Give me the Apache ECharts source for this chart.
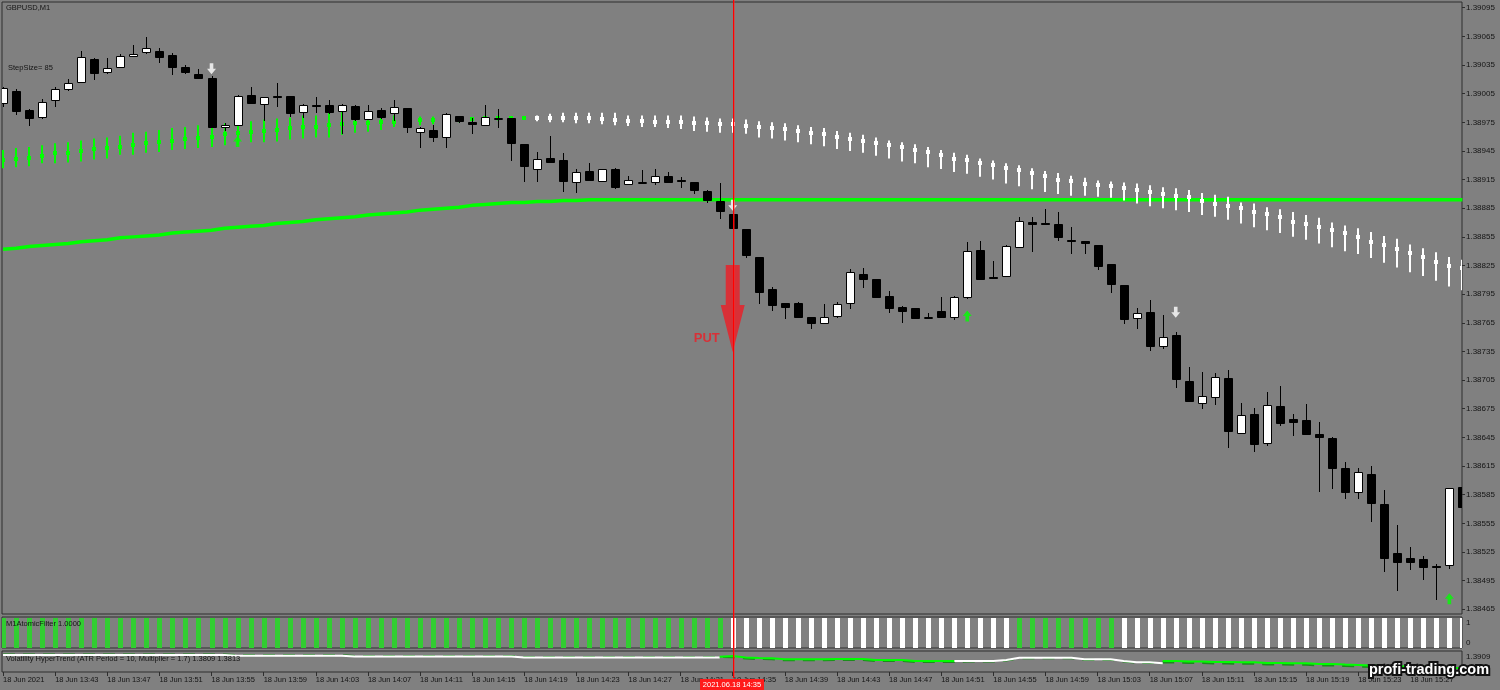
<!DOCTYPE html>
<html><head><meta charset="utf-8">
<script src="https://cdn.jsdelivr.net/npm/echarts@6/dist/echarts.min.js"></script>
<style>html,body{margin:0;padding:0;background:#808080;}#c{width:1500px;height:690px;}</style>
</head><body><div id="c"></div>
<script>
// ---------------- DATA (GBPUSD, M1, 18 Jun 2021 13:39 .. 15:31) ----------------
const symbolTitle = 'GBPUSD,M1';
const stepSizeText = 'StepSize= 85';
const filterTitle = 'M1AtomicFilter 1.0000';
const hyperTitle = 'Volatility HyperTrend (ATR Period = 10, Multiplier = 1.7) 1.3809 1.3813';
const putTime = '2021.06.18 14:35';
const putLabel = 'PUT';

const opens = [1.38995,1.39008,1.38988,1.38981,1.38998,1.39010,1.39017,1.39041,1.39028,1.39033,
1.39044,1.39049,1.39050,1.39046,1.39033,1.39026,1.39021,1.38970,1.38972,1.39004,
1.38994,1.39003,1.39003,1.38986,1.38993,1.38993,1.38987,1.38992,1.38978,1.38988,
1.38985,1.38990,1.38965,1.38967,1.38960,1.38982,1.38975,1.38972,1.38980,1.38979,
1.38952,1.38926,1.38938,1.38935,1.38912,1.38924,1.38914,1.38926,1.38910,1.38912,
1.38912,1.38919,1.38915,1.38912,1.38903,1.38893,1.38879,1.38863,1.38834,1.38800,
1.38786,1.38786,1.38771,1.38765,1.38772,1.38786,1.38816,1.38811,1.38793,1.38782,
1.38780,1.38771,1.38777,1.38771,1.38792,1.38841,1.38813,1.38814,1.38844,1.38871,
1.38870,1.38868,1.38852,1.38851,1.38846,1.38827,1.38805,1.38770,1.38776,1.38741,
1.38752,1.38704,1.38681,1.38687,1.38707,1.38650,1.38669,1.38639,1.38678,1.38664,
1.38663,1.38649,1.38644,1.38613,1.38588,1.38607,1.38575,1.38524,1.38519,1.38518,
1.38510,1.38511,1.38593];
const closes = [1.39011,1.38987,1.38979,1.38996,1.39010,1.39016,1.39043,1.39027,1.39032,1.39044,
1.39047,1.39053,1.39043,1.39033,1.39028,1.39021,1.38970,1.38972,1.39003,1.38995,
1.39001,1.39002,1.38985,1.38993,1.38992,1.38986,1.38993,1.38978,1.38987,1.38981,
1.38991,1.38970,1.38969,1.38960,1.38984,1.38976,1.38973,1.38981,1.38980,1.38953,
1.38929,1.38937,1.38933,1.38913,1.38923,1.38915,1.38926,1.38907,1.38915,1.38912,
1.38919,1.38912,1.38913,1.38904,1.38894,1.38882,1.38864,1.38836,1.38797,1.38784,
1.38782,1.38771,1.38765,1.38771,1.38785,1.38818,1.38811,1.38792,1.38781,1.38777,
1.38770,1.38771,1.38771,1.38792,1.38840,1.38811,1.38812,1.38845,1.38872,1.38869,
1.38869,1.38855,1.38851,1.38849,1.38825,1.38806,1.38769,1.38775,1.38741,1.38750,
1.38706,1.38683,1.38688,1.38708,1.38652,1.38668,1.38638,1.38679,1.38660,1.38661,
1.38649,1.38645,1.38613,1.38588,1.38609,1.38576,1.38519,1.38514,1.38514,1.38509,
1.38509,1.38592,1.38572];
const highs = [1.39012,1.39010,1.38989,1.38999,1.39012,1.39020,1.39050,1.39042,1.39042,1.39047,
1.39056,1.39064,1.39053,1.39048,1.39035,1.39031,1.39023,1.38974,1.39004,1.39012,
1.39002,1.39016,1.39003,1.38994,1.39001,1.38998,1.38994,1.38993,1.38993,1.38990,
1.38998,1.38990,1.38970,1.38972,1.38985,1.38982,1.38980,1.38993,1.38989,1.38980,
1.38952,1.38944,1.38961,1.38943,1.38926,1.38932,1.38926,1.38927,1.38919,1.38925,
1.38926,1.38923,1.38918,1.38912,1.38904,1.38911,1.38881,1.38863,1.38834,1.38803,
1.38786,1.38787,1.38771,1.38785,1.38787,1.38821,1.38822,1.38811,1.38798,1.38783,
1.38780,1.38775,1.38792,1.38793,1.38850,1.38851,1.38830,1.38846,1.38876,1.38876,
1.38884,1.38881,1.38865,1.38851,1.38846,1.38827,1.38805,1.38781,1.38789,1.38773,
1.38755,1.38719,1.38713,1.38712,1.38716,1.38681,1.38676,1.38692,1.38699,1.38670,
1.38680,1.38661,1.38645,1.38619,1.38613,1.38615,1.38590,1.38553,1.38530,1.38521,
1.38512,1.38592,1.38595];
const lows = [1.38992,1.38984,1.38972,1.38980,1.38992,1.39009,1.39017,1.39020,1.39027,1.39033,
1.39044,1.39048,1.39038,1.39026,1.39027,1.39021,1.38970,1.38967,1.38972,1.38995,
1.38977,1.38992,1.38982,1.38981,1.38986,1.38985,1.38964,1.38977,1.38978,1.38980,
1.38977,1.38965,1.38949,1.38955,1.38949,1.38975,1.38964,1.38972,1.38970,1.38935,
1.38914,1.38914,1.38933,1.38903,1.38902,1.38915,1.38913,1.38906,1.38910,1.38912,
1.38910,1.38912,1.38907,1.38901,1.38892,1.38875,1.38863,1.38834,1.38786,1.38778,
1.38770,1.38771,1.38760,1.38765,1.38771,1.38781,1.38802,1.38792,1.38776,1.38766,
1.38770,1.38770,1.38771,1.38769,1.38791,1.38811,1.38812,1.38814,1.38844,1.38840,
1.38868,1.38852,1.38838,1.38838,1.38821,1.38797,1.38765,1.38760,1.38737,1.38739,
1.38698,1.38683,1.38676,1.38680,1.38635,1.38650,1.38631,1.38637,1.38658,1.38648,
1.38649,1.38589,1.38592,1.38582,1.38581,1.38557,1.38505,1.38485,1.38507,1.38497,
1.38476,1.38508,1.38569];

// thick green moving average
const maLine = [1.38842,1.38843,1.38845,1.38846,1.38847,1.38848,1.38850,1.38851,1.38852,1.38854,
1.38855,1.38856,1.38857,1.38859,1.38860,1.38861,1.38862,1.38864,1.38865,1.38866,
1.38867,1.38869,1.38870,1.38871,1.38873,1.38874,1.38875,1.38876,1.38878,1.38879,
1.38880,1.38881,1.38883,1.38884,1.38885,1.38886,1.38888,1.38889,1.38890,1.38891,
1.38891,1.38892,1.38892,1.38893,1.38893,1.38894,1.38894,1.38894,1.38894,1.38894,
1.38894,1.38894,1.38894,1.38894,1.38894,1.38894,1.38894,1.38894,1.38894,1.38894,
1.38894,1.38894,1.38894,1.38894,1.38894,1.38894,1.38894,1.38894,1.38894,1.38894,
1.38894,1.38894,1.38894,1.38894,1.38894,1.38894,1.38894,1.38894,1.38894,1.38894,
1.38894,1.38894,1.38894,1.38894,1.38894,1.38894,1.38894,1.38894,1.38894,1.38894,
1.38894,1.38894,1.38894,1.38894,1.38894,1.38894,1.38894,1.38894,1.38894,1.38894,
1.38894,1.38894,1.38894,1.38894,1.38894,1.38894,1.38894,1.38894,1.38894,1.38894,
1.38894,1.38894,1.38894];

// step indicator: range top / marker / range bottom, direction (1 green up, -1 white down)
const stepTop = [1.38946,1.38948,1.38949,1.38951,1.38953,1.38954,1.38956,1.38958,1.38959,1.38961,
1.38964,1.38965,1.38967,1.38969,1.38970,1.38972,1.38972,1.38974,1.38976,1.38976,
1.38978,1.38979,1.38980,1.38982,1.38982,1.38985,1.38986,1.38986,1.38984,1.38982,
1.38982,1.38981,1.38981,1.38981,1.38981,1.38981,1.38980,1.38981,1.38981,1.38980,
1.38980,1.38982,1.38984,1.38985,1.38985,1.38985,1.38985,1.38985,1.38982,1.38982,
1.38982,1.38982,1.38982,1.38981,1.38980,1.38979,1.38979,1.38978,1.38976,1.38975,
1.38974,1.38972,1.38970,1.38969,1.38966,1.38964,1.38962,1.38959,1.38956,1.38954,
1.38952,1.38949,1.38946,1.38943,1.38941,1.38937,1.38935,1.38932,1.38930,1.38927,
1.38924,1.38922,1.38919,1.38917,1.38914,1.38913,1.38912,1.38911,1.38909,1.38907,
1.38906,1.38904,1.38901,1.38899,1.38897,1.38891,1.38890,1.38886,1.38884,1.38881,
1.38878,1.38875,1.38870,1.38867,1.38864,1.38860,1.38856,1.38853,1.38847,1.38843,
1.38839,1.38834,1.38831];
const stepMid = [1.38935,1.38937,1.38938,1.38940,1.38943,1.38943,1.38945,1.38947,1.38948,1.38949,
1.38951,1.38953,1.38954,1.38955,1.38957,1.38959,1.38960,1.38963,1.38964,1.38965,
1.38966,1.38967,1.38969,1.38970,1.38970,1.38972,1.38973,1.38974,1.38974,1.38975,
1.38975,1.38976,1.38977,1.38977,1.38978,1.38978,1.38978,1.38979,1.38979,1.38979,
1.38979,1.38979,1.38979,1.38979,1.38979,1.38979,1.38978,1.38977,1.38976,1.38976,
1.38975,1.38975,1.38975,1.38974,1.38974,1.38973,1.38973,1.38971,1.38970,1.38969,
1.38968,1.38966,1.38964,1.38963,1.38960,1.38958,1.38955,1.38953,1.38951,1.38949,
1.38946,1.38944,1.38941,1.38937,1.38935,1.38932,1.38930,1.38927,1.38925,1.38922,
1.38919,1.38915,1.38913,1.38910,1.38909,1.38908,1.38906,1.38904,1.38902,1.38900,
1.38898,1.38897,1.38893,1.38889,1.38887,1.38885,1.38881,1.38879,1.38876,1.38871,
1.38869,1.38865,1.38862,1.38859,1.38855,1.38850,1.38846,1.38842,1.38838,1.38834,
1.38829,1.38824,1.38822];
const stepBot = [1.38927,1.38928,1.38929,1.38932,1.38932,1.38933,1.38934,1.38936,1.38937,1.38941,
1.38941,1.38943,1.38944,1.38946,1.38947,1.38948,1.38949,1.38951,1.38951,1.38954,
1.38954,1.38955,1.38957,1.38958,1.38959,1.38959,1.38962,1.38964,1.38965,1.38967,
1.38970,1.38971,1.38972,1.38973,1.38974,1.38975,1.38976,1.38976,1.38977,1.38978,
1.38978,1.38976,1.38975,1.38975,1.38974,1.38974,1.38973,1.38972,1.38971,1.38970,
1.38970,1.38969,1.38968,1.38966,1.38965,1.38964,1.38964,1.38963,1.38959,1.38958,
1.38956,1.38954,1.38952,1.38950,1.38947,1.38945,1.38943,1.38940,1.38937,1.38934,
1.38932,1.38928,1.38926,1.38923,1.38921,1.38918,1.38915,1.38911,1.38908,1.38905,
1.38902,1.38900,1.38898,1.38898,1.38897,1.38896,1.38893,1.38890,1.38887,1.38885,
1.38883,1.38881,1.38878,1.38876,1.38873,1.38869,1.38865,1.38862,1.38859,1.38855,
1.38852,1.38848,1.38844,1.38840,1.38837,1.38833,1.38828,1.38823,1.38818,1.38814,
1.38809,1.38803,1.38799];
const stepDir = [1,1,1,1,1,1,1,1,1,1, 1,1,1,1,1,1,1,1,1,1, 1,1,1,1,1,1,1,1,1,1, 1,1,1,1,1,1,1,1,1,1, 1,
-1,-1,-1,-1,-1,-1,-1,-1,-1,-1, -1,-1,-1,-1,-1,-1,-1,-1,-1,-1, -1,-1,-1,-1,-1,-1,-1,-1,-1,-1,
-1,-1,-1,-1,-1,-1,-1,-1,-1,-1, -1,-1,-1,-1,-1,-1,-1,-1,-1,-1, -1,-1,-1,-1,-1,-1,-1,-1,-1,-1,
-1,-1,-1,-1,-1,-1,-1,-1,-1,-1, -1,-1];

// signal arrows [bar index, price]
const sellArrows = [[16, 1.39031], [56, 1.38888], [90, 1.38776]];
const buyArrows = [[18, 1.38955], [74, 1.38772], [111, 1.38476]];
const putSignal = [56, 1.38780];

// M1AtomicFilter state per bar (1 = green, -1 = white)
const filterState = [1,1,1,1,1,1,1,1,1,1, 1,1,1,1,1,1,1,1,1,1, 1,1,1,1,1,1,1,1,1,1,
1,1,1,1,1,1,1,1,1,1, 1,1,1,1,1,1,1,1,1,1, 1,1,1,1,1,1,
-1,-1,-1,-1,-1,-1,-1,-1,-1,-1, -1,-1,-1,-1,-1,-1,-1,-1,-1,-1, -1,-1,
1,1,1,1,1,1,1,1,
-1,-1,-1,-1,-1,-1,-1,-1,-1,-1, -1,-1,-1,-1,-1,-1,-1,-1,-1,-1, -1,-1,-1,-1,-1,-1,-1];

// Volatility HyperTrend lines
const hyperDn = [1.38936,1.38936,1.38936,1.38936,1.38936,1.38936,1.38936,1.38936,1.38936,1.38936,
1.38936,1.38936,1.38936,1.38936,1.38936,1.38936,1.38936,1.38936,
1.38909,1.38909,1.38909,1.38909,1.38909,1.38909,1.38909,1.38909,1.38909,
1.38878,1.38878,1.38878,1.38878,1.38878,1.38878,1.38878,1.38878,1.38878,1.38878,1.38878,1.38878,1.38878,
1.38839,1.38839,1.38839,1.38839,1.38839,1.38839,1.38839,1.38839,1.38839,1.38839,1.38839,1.38839,1.38839,1.38839,1.38839,1.38839,
null,null,null,null,null,null,null,null,null,null,null,null,null,null,null,null,null,
1.38704,1.38704,1.38704,1.38704,1.38743,1.38832,1.38832,1.38832,1.38832,1.38832,
1.38770,1.38770,1.38770,1.38704,1.38654,1.38654,1.38616,
null,null,null,null,null,null,null,null,null,null,null,null,null,null,null,null,null,null,null,null,null,null,null];
const hyperUp = [null,null,null,null,null,null,null,null,null,null, null,null,null,null,null,null,null,null,null,null,
null,null,null,null,null,null,null,null,null,null, null,null,null,null,null,null,null,null,null,null,
null,null,null,null,null,null,null,null,null,null, null,null,null,null,null,
1.38870,1.38897,1.38839,1.38820,1.38808,1.38770,1.38770,1.38770,1.38770,1.38781,1.38781,1.38781,
1.38743,1.38743,1.38743,1.38704,1.38704,1.38704,1.38704,
null,null,null,null,null,null,null,null,null,null,null,null,null,null,null,
1.38704,1.38704,1.38685,1.38685,1.38666,1.38666,1.38654,1.38654,1.38627,1.38627,1.38616,1.38616,
1.38589,1.38589,1.38569,1.38550,1.38530,1.38511,1.38511,1.38484,1.38484,1.38454,1.38440,1.38423];
// dark green dotted HyperTrend signal line
const hyperSig = [1.38955,1.38955,1.38955,1.38955,1.38955,1.38955,1.38955,1.38955,1.38955,1.38955,
1.38955,1.38955,1.38955,1.38955,1.38955,1.38955,1.38955,1.38955,
1.38928,1.38928,1.38928,1.38928,1.38928,1.38928,1.38928,1.38928,1.38928,
1.38897,1.38897,1.38897,1.38897,1.38897,1.38897,1.38897,1.38897,1.38897,1.38897,1.38897,1.38897,1.38897,
1.38858,1.38858,1.38858,1.38858,1.38858,1.38858,1.38858,1.38858,1.38858,1.38858,1.38858,1.38858,1.38858,1.38858,1.38858,1.38858,
1.38850,1.38800,1.38780,1.38770,1.38731,1.38731,1.38731,1.38731,1.38742,1.38742,1.38742,
1.38704,1.38704,1.38704,1.38666,1.38666,1.38666,1.38666,
1.38685,1.38685,1.38685,1.38724,1.38813,1.38813,1.38813,1.38813,1.38813,1.38751,1.38751,1.38751,1.38685,1.38635,1.38635,
1.38646,1.38646,1.38627,1.38627,1.38608,1.38608,1.38596,1.38596,1.38569,1.38569,1.38558,1.38558,
1.38531,1.38531,1.38511,1.38492,1.38472,1.38453,1.38453,1.38426,1.38426,1.38396,1.38382,1.38365];

// axis ticks
const yTickLabels = ['1.38465','1.38495','1.38525','1.38555','1.38585','1.38615','1.38645','1.38675','1.38705','1.38735',
'1.38765','1.38795','1.38825','1.38855','1.38885','1.38915','1.38945','1.38975','1.39005','1.39035','1.39065','1.39095'];
const xTickIdx = [0,4,8,12,16,20,24,28,32,36,40,44,48,52,56,60,64,68,72,76,80,84,88,92,96,100,104,108,112];
const xTickLabels = ['18 Jun 2021','18 Jun 13:43','18 Jun 13:47','18 Jun 13:51','18 Jun 13:55','18 Jun 13:59',
'18 Jun 14:03','18 Jun 14:07','18 Jun 14:11','18 Jun 14:15','18 Jun 14:19','18 Jun 14:23','18 Jun 14:27',
'18 Jun 14:31','18 Jun 14:35','18 Jun 14:39','18 Jun 14:43','18 Jun 14:47','18 Jun 14:51','18 Jun 14:55',
'18 Jun 14:59','18 Jun 15:03','18 Jun 15:07','18 Jun 15:11','18 Jun 15:15','18 Jun 15:19','18 Jun 15:23',
'18 Jun 15:27','18 Jun 15:31'];
const filterTicks = ['0', '1'];
const hyperTicks = ['1.3828', '1.3909'];
const watermark = 'profi-trading.com';

// ---------------- CHART ----------------
const FONT = 'Liberation Sans';
const TXT = '#141414';
const BORDER = '#2e2e2e';
const xMin = -0.08, xMax = 111.97;

const chart = echarts.init(document.getElementById('c'), null, {renderer: 'canvas', width: 1500, height: 690});

const candleData = opens.map((o, i) => [i, o, closes[i], lows[i], highs[i]]);
const stepData = stepMid.map((m, i) => [i, stepTop[i], m, stepBot[i], stepDir[i]]);
const filterData = filterState.map((s, i) => [i, s]);
const toLine = (arr) => arr.map((v, i) => [i, v === null ? '-' : v]);

function renderCandle(params, api) {
  const i = api.value(0), o = api.value(1), c = api.value(2), l = api.value(3), h = api.value(4);
  const pO = api.coord([i, o]), pC = api.coord([i, c]), pL = api.coord([i, l]), pH = api.coord([i, h]);
  const x = Math.round(pO[0]) + 0.5;
  const top = Math.round(Math.min(pO[1], pC[1])) + 0.5;
  const bot = Math.round(Math.max(pO[1], pC[1])) + 0.5;
  const bull = c >= o;
  return {
    type: 'group',
    children: [
      {type: 'line', shape: {x1: x, y1: Math.round(pH[1]), x2: x, y2: Math.round(pL[1]) + 1}, style: {stroke: '#000', lineWidth: 1}},
      {type: 'rect', shape: {x: x - 4, y: top, width: 8, height: Math.max(bot - top, 1)},
       style: {fill: bull ? '#ffffff' : '#000000', stroke: '#000', lineWidth: 1}}
    ]
  };
}
function renderStep(params, api) {
  const i = api.value(0), t = api.value(1), m = api.value(2), b = api.value(3), d = api.value(4);
  const pt = api.coord([i, t]), pm = api.coord([i, m]), pb = api.coord([i, b]);
  const col = d > 0 ? '#00ff00' : '#ffffff';
  const x = Math.round(pt[0]);
  return {
    type: 'group',
    children: [
      {type: 'rect', shape: {x: x - 1, y: pt[1], width: 2, height: pb[1] - pt[1]}, style: {fill: col}},
      {type: 'rect', shape: {x: x - 2, y: Math.round(pm[1]) - 2, width: 4, height: 4}, style: {fill: col}}
    ]
  };
}
function renderFilter(params, api) {
  const i = api.value(0), s = api.value(1);
  const p1 = api.coord([i, 1]), p0 = api.coord([i, 0]);
  return {type: 'rect', shape: {x: Math.round(p1[0]) - 2, y: p1[1] + 1, width: 5, height: p0[1] - p1[1] - 1},
          style: {fill: s > 0 ? '#32cd32' : '#ffffff'}};
}

const hiddenX = (g) => ({type: 'value', gridIndex: g, min: xMin, max: xMax, show: false, splitLine: {show: false},
                         axisLine: {show: false, onZero: false}, axisTick: {show: false}});

const option = {
  backgroundColor: '#808080',
  animation: false,
  grid: [
    {left: 2, top: 2, width: 1460, height: 612, show: true, borderColor: BORDER, borderWidth: 1, backgroundColor: 'transparent'},
    {left: 2, top: 617, width: 1460, height: 31, show: true, borderColor: BORDER, borderWidth: 1, backgroundColor: 'transparent'},
    {left: 2, top: 651, width: 1460, height: 21, show: true, borderColor: BORDER, borderWidth: 1, backgroundColor: 'transparent'}
  ],
  xAxis: [
    hiddenX(0), hiddenX(1),
    {type: 'value', gridIndex: 2, min: xMin, max: xMax, position: 'bottom',
     axisLine: {show: false, onZero: false},
     splitLine: {show: false},
     axisTick: {show: true, length: 4, customValues: xTickIdx, lineStyle: {color: BORDER}},
     axisLabel: {show: true, customValues: xTickIdx, formatter: (v) => xTickLabels[xTickIdx.indexOf(Math.round(v))],
                 align: 'left', margin: 4, color: TXT, fontSize: 7.5, fontFamily: FONT, hideOverlap: false}}
  ],
  yAxis: [
    {type: 'value', gridIndex: 0, min: 1.3846, max: 1.39101, position: 'right',
     axisLine: {show: false, onZero: false}, splitLine: {show: false},
     axisTick: {show: true, length: 3, customValues: yTickLabels.map(Number), lineStyle: {color: BORDER}},
     axisLabel: {show: true, customValues: yTickLabels.map(Number), formatter: (v) => v.toFixed(5),
                 margin: 4, color: TXT, fontSize: 8, fontFamily: FONT, hideOverlap: false}},
    {type: 'value', gridIndex: 1, min: 0, max: 1, position: 'right',
     axisLine: {show: false, onZero: false}, splitLine: {show: false}, axisTick: {show: false},
     axisLabel: {show: true, customValues: filterTicks.map(Number), margin: 4, hideOverlap: false,
                 formatter: (v) => v > 0.5 ? '{t|' + filterTicks[1] + '}' : '{b|' + filterTicks[0] + '}',
                 rich: {t: {padding: [12, 0, 0, 0], color: TXT, fontSize: 8, fontFamily: FONT},
                        b: {padding: [0, 0, 10, 0], color: TXT, fontSize: 8, fontFamily: FONT}}}},
    {type: 'value', gridIndex: 2, min: Number(hyperTicks[0]), max: Number(hyperTicks[1]), position: 'right',
     axisLine: {show: false, onZero: false}, splitLine: {show: false}, axisTick: {show: false},
     axisLabel: {show: true, customValues: hyperTicks.map(Number), margin: 4, hideOverlap: false,
                 formatter: (v) => v > 1.387 ? '{t|' + hyperTicks[1] + '}' : '{b|' + hyperTicks[0] + '}',
                 rich: {t: {padding: [12, 0, 0, 0], color: TXT, fontSize: 8, fontFamily: FONT},
                        b: {padding: [0, 0, 8, 0], color: TXT, fontSize: 8, fontFamily: FONT}}}}
  ],
  series: [
    {name: 'MA', type: 'line', xAxisIndex: 0, yAxisIndex: 0, z: 2,
     data: maLine.map((v, i) => [i, v]), symbol: 'none', lineStyle: {color: '#00ff00', width: 3.5}},
    {name: 'Step', type: 'custom', xAxisIndex: 0, yAxisIndex: 0, z: 3, clip: true,
     renderItem: renderStep, data: stepData},
    {name: 'Candles', type: 'custom', xAxisIndex: 0, yAxisIndex: 0, z: 4, clip: true,
     renderItem: renderCandle, data: candleData},
    {name: 'Sell', type: 'scatter', xAxisIndex: 0, yAxisIndex: 0, z: 6,
     symbol: 'path://M3,0 L7,0 L7,6 L10,6 L5,12 L0,6 L3,6 Z', symbolSize: [9, 11],
     itemStyle: {color: '#ffffff'}, data: sellArrows},
    {name: 'Buy', type: 'scatter', xAxisIndex: 0, yAxisIndex: 0, z: 6,
     symbol: 'path://M5,0 L10,6 L7,6 L7,12 L3,12 L3,6 L0,6 Z', symbolSize: [9, 11],
     itemStyle: {color: '#00ff00'}, data: buyArrows},
    {name: 'Put', type: 'scatter', xAxisIndex: 0, yAxisIndex: 0, z: 8,
     symbol: 'path://M5,0 L19,0 L19,40 L24,40 L12,87 L0,40 L5,40 Z', symbolSize: [24, 87],
     itemStyle: {color: '#ed1c24'}, data: [putSignal],
     label: {show: true, formatter: putLabel, position: 'left', distance: 1, offset: [0, 30],
             color: '#ed1c24', fontWeight: 'bold', fontSize: 13, fontFamily: FONT}},
    {name: 'Filter', type: 'custom', xAxisIndex: 1, yAxisIndex: 1, z: 3, clip: true,
     renderItem: renderFilter, data: filterData},
    {name: 'HyperSig', type: 'line', xAxisIndex: 2, yAxisIndex: 2, z: 2, symbol: 'none',
     data: toLine(hyperSig), lineStyle: {color: '#1d8c1d', width: 2, type: [12, 8]}},
    {name: 'HyperDn', type: 'line', xAxisIndex: 2, yAxisIndex: 2, z: 3, symbol: 'none',
     data: toLine(hyperDn), lineStyle: {color: '#ffffff', width: 2}},
    {name: 'HyperUp', type: 'line', xAxisIndex: 2, yAxisIndex: 2, z: 3, symbol: 'none',
     data: toLine(hyperUp), lineStyle: {color: '#00ff00', width: 2}}
  ]
};
chart.setOption(option);

const pPut = chart.convertToPixel({xAxisIndex: 0, yAxisIndex: 0}, putSignal);
const lx = Math.round(pPut[0]);
chart.setOption({
  graphic: [
    {type: 'rect', z: 50, silent: true, shape: {x: lx, y: 0, width: 1, height: 678}, style: {fill: '#ff0000'}},
    {type: 'rect', z: 49, silent: true, shape: {x: lx + 1, y: 0, width: 1, height: 678}, style: {fill: 'rgba(255,40,40,0.45)'}},
    {type: 'rect', z: 60, shape: {x: lx - 33, y: 679, width: 64, height: 11}, style: {fill: '#ff1a1a'}},
    {type: 'text', z: 61, x: lx - 1, y: 684.5, style: {text: putTime, fill: '#ffffff', font: '7.5px ' + FONT, align: 'center', verticalAlign: 'middle'}},
    {type: 'text', z: 100, x: 6, y: 8, style: {text: symbolTitle, fill: TXT, font: '7.5px ' + FONT, verticalAlign: 'middle'}},
    {type: 'text', z: 100, x: 8, y: 68, style: {text: stepSizeText, fill: TXT, font: '7.5px ' + FONT, verticalAlign: 'middle'}},
    {type: 'text', z: 100, x: 6, y: 624, style: {text: filterTitle, fill: TXT, font: '7.5px ' + FONT, verticalAlign: 'middle'}},
    {type: 'text', z: 100, x: 6, y: 659, style: {text: hyperTitle, fill: TXT, font: '7.5px ' + FONT, verticalAlign: 'middle'}},
    {type: 'text', z: 120, x: 1369, y: 670, style: {text: watermark, fill: '#ffffff', stroke: '#111111', lineWidth: 4,
      font: 'bold 14.5px ' + FONT, verticalAlign: 'middle'}}
  ]
});
</script>
</body></html>
